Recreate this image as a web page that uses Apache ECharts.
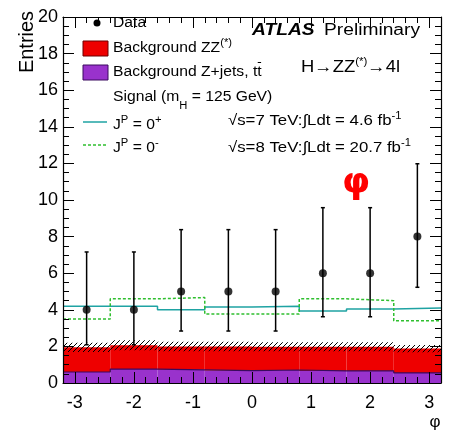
<!DOCTYPE html>
<html>
<head>
<meta charset="utf-8">
<script src="https://cdn.jsdelivr.net/npm/echarts@6/dist/echarts.min.js"></script>
<style>
  html, body { margin: 0; padding: 0; background: #fff; }
  #chart { width: 450px; height: 430px; }
</style>
</head>
<body>
<div id="chart"></div>
<script>
// bins in phi, 8 bins from -3.2 to 3.2
var binEdges = [-3.2, -2.4, -1.6, -0.8, 0, 0.8, 1.6, 2.4, 3.2];
var binCenters = [-2.8, -2.0, -1.2, -0.4, 0.4, 1.2, 2.0, 2.8];
var bkgZjets = [0.60, 0.76, 0.72, 0.68, 0.71, 0.66, 0.66, 0.55];   // Z+jets, ttbar
var bkgTotal = [1.95, 2.06, 2.00, 1.99, 1.98, 1.98, 1.98, 1.88];   // + ZZ(*)
var bkgErr = [0.25, 0.27, 0.26, 0.26, 0.25, 0.25, 0.24, 0.20];
var sigPlus = [4.20, 4.20, 4.00, 4.15, 4.20, 3.93, 4.04, 4.10];    // J^P = 0+
var sigMinus = [3.50, 4.60, 4.67, 3.77, 3.77, 4.60, 4.50, 3.40];   // J^P = 0-
var dataN = [4, 4, 5, 5, 5, 6, 6, 8];
var dataLow = [2.09, 2.09, 2.84, 2.84, 2.84, 3.62, 3.62, 5.23];
var dataHigh = [7.16, 7.16, 8.38, 8.38, 8.38, 9.58, 9.58, 11.98];
var xMajor = [-3, -2, -1, 0, 1, 2, 3];

var xMinor = [];
for (var k = -16; k <= 16; k++) xMinor.push(Math.round(k * 2) / 10);

var FONT = 'Liberation Sans';

// hatch pattern for the background uncertainty
var hatch = document.createElement('canvas');
hatch.width = 5; hatch.height = 5;
var hc = hatch.getContext('2d');
hc.strokeStyle = '#000';
hc.lineWidth = 1;
hc.beginPath();
hc.moveTo(0, 5); hc.lineTo(5, 0);
hc.moveTo(-1, 1); hc.lineTo(1, -1);
hc.moveTo(4, 6); hc.lineTo(6, 4);
hc.stroke();

// text width helper (for the bar over t-bar in the legend)
var mctx = document.createElement('canvas').getContext('2d');
function textW(s, size) {
  mctx.font = size + 'px "' + FONT + '"';
  return mctx.measureText(s).width;
}

function bins(low, high) {
  return low.map(function (l, i) {
    return [binEdges[i], binEdges[i + 1], l, high[i]];
  });
}
function stepPts(vals) {
  var pts = vals.map(function (v, i) { return [binEdges[i], v]; });
  pts.push([binEdges[vals.length], vals[vals.length - 1]]);
  return pts;
}
function renderRect(params, api) {
  var p0 = api.coord([api.value(0), api.value(3)]);
  var p1 = api.coord([api.value(1), api.value(2)]);
  return {
    type: 'rect',
    shape: { x: p0[0], y: p0[1], width: p1[0] - p0[0], height: p1[1] - p0[1] },
    style: api.style()
  };
}

var zeros = bkgZjets.map(function () { return 0; });
var errLo = bkgTotal.map(function (v, i) { return v - bkgErr[i]; });
var errHi = bkgTotal.map(function (v, i) { return v + bkgErr[i]; });

var sup = { fontSize: 10, lineHeight: 10, verticalAlign: 'top', fontFamily: FONT, fill: '#000' };
var sub = { fontSize: 10, lineHeight: 10, verticalAlign: 'bottom', fontFamily: FONT, fill: '#000' };

function label(x, y, text, size, lh, sx, extra) {
  var st = {
    text: text, x: 0, y: 0, fill: '#000', fontFamily: FONT, fontSize: size,
    lineHeight: lh, align: 'left', verticalAlign: 'middle',
    rich: { sup: sup, sub: sub }
  };
  if (extra) for (var key in extra) st[key] = extra[key];
  return { type: 'text', x: x, y: y, scaleX: sx, z: 100, style: st };
}

var tbarX0 = 113 + textW('Background Z+jets, t', 14) * 1.12;
var tbarX1 = 113 + textW('Background Z+jets, tt', 14) * 1.12;

var chart = echarts.init(document.getElementById('chart'));

var axisLine = { show: true, onZero: false, lineStyle: { color: '#000', width: 1.2 } };
var noLine = { show: false, onZero: false };
var tickStyle = { color: '#000', width: 1 };

var option = {
  animation: false,
  grid: { left: 63, right: 9, top: 17, bottom: 47 },
  xAxis: [
    {
      type: 'value', min: -3.2, max: 3.2, position: 'bottom', z: 10,
      axisLine: axisLine, splitLine: { show: false },
      axisTick: { inside: true, length: 11, lineStyle: tickStyle, customValues: xMajor },
      axisLabel: { customValues: xMajor, color: '#000', fontFamily: FONT, fontSize: 18, margin: 11 }
    },
    {
      type: 'value', min: -3.2, max: 3.2, position: 'bottom', z: 10,
      axisLine: noLine, splitLine: { show: false },
      axisTick: { inside: true, length: 6, lineStyle: tickStyle, customValues: xMinor },
      axisLabel: { show: false }
    },
    {
      type: 'value', min: -3.2, max: 3.2, position: 'top', z: 10,
      axisLine: axisLine, splitLine: { show: false },
      axisTick: { inside: true, length: 11, lineStyle: tickStyle, customValues: xMajor },
      axisLabel: { show: false }
    },
    {
      type: 'value', min: -3.2, max: 3.2, position: 'top', z: 10,
      axisLine: noLine, splitLine: { show: false },
      axisTick: { inside: true, length: 6, lineStyle: tickStyle, customValues: xMinor },
      axisLabel: { show: false }
    }
  ],
  yAxis: [
    {
      type: 'value', min: 0, max: 20, interval: 2, position: 'left', z: 10,
      axisLine: axisLine, splitLine: { show: false },
      axisTick: { inside: true, length: 11, lineStyle: tickStyle },
      minorTick: { show: true, splitNumber: 4, length: 6, lineStyle: tickStyle },
      axisLabel: { color: '#000', fontFamily: FONT, fontSize: 18, margin: 5 }
    },
    {
      type: 'value', min: 0, max: 20, interval: 2, position: 'right', z: 10,
      axisLine: axisLine, splitLine: { show: false },
      axisTick: { inside: true, length: 11, lineStyle: tickStyle },
      minorTick: { show: true, splitNumber: 4, length: 6, lineStyle: tickStyle },
      axisLabel: { show: false }
    }
  ],
  series: [
    {
      name: 'Background Z+jets', type: 'custom', renderItem: renderRect, z: 2,
      itemStyle: { color: '#9932cc' }, data: bins(zeros, bkgZjets)
    },
    {
      name: 'Background ZZ', type: 'custom', renderItem: renderRect, z: 2,
      itemStyle: { color: '#ee0000' }, data: bins(bkgZjets, bkgTotal)
    },
    {
      name: 'Uncertainty', type: 'custom', z: 3, data: bins(errLo, errHi),
      renderItem: function (params, api) {
        var p0 = api.coord([api.value(0), api.value(3)]);
        var p1 = api.coord([api.value(1), api.value(2)]);
        return {
          type: 'rect',
          shape: { x: p0[0], y: p0[1], width: p1[0] - p0[0], height: p1[1] - p0[1] },
          style: { fill: { image: hatch, repeat: 'repeat' } }
        };
      }
    },
    {
      name: 'Z+jets edge', type: 'line', step: 'end', showSymbol: false, z: 4,
      lineStyle: { color: '#3a0a5e', width: 1.2 }, data: stepPts(bkgZjets)
    },
    {
      name: 'JP = 0+', type: 'line', step: 'end', showSymbol: false, z: 5,
      lineStyle: { color: '#1fa3a3', width: 1.5 }, data: stepPts(sigPlus)
    },
    {
      name: 'JP = 0-', type: 'line', step: 'end', showSymbol: false, z: 5,
      lineStyle: { color: '#2fbf2f', width: 1.5, type: [3, 2] }, data: stepPts(sigMinus)
    },
    {
      name: 'Data errors', type: 'custom', z: 6,
      data: binCenters.map(function (c, i) { return [c, dataLow[i], dataHigh[i]]; }),
      renderItem: function (params, api) {
        var lo = api.coord([api.value(0), api.value(1)]);
        var hi = api.coord([api.value(0), api.value(2)]);
        var ls = { stroke: '#000', lineWidth: 1.5 };
        return {
          type: 'group',
          children: [
            { type: 'line', shape: { x1: lo[0], y1: lo[1], x2: hi[0], y2: hi[1] }, style: ls },
            { type: 'line', shape: { x1: lo[0] - 2, y1: lo[1], x2: lo[0] + 2, y2: lo[1] }, style: ls },
            { type: 'line', shape: { x1: hi[0] - 2, y1: hi[1], x2: hi[0] + 2, y2: hi[1] }, style: ls }
          ]
        };
      }
    },
    {
      name: 'Data', type: 'scatter', z: 7, symbol: 'circle', symbolSize: 8,
      itemStyle: { color: '#000' },
      data: binCenters.map(function (c, i) { return [c, dataN[i]]; })
    }
  ],
  graphic: [
    // axis titles
    { type: 'text', x: 27, y: 42, rotation: Math.PI / 2, z: 100,
      style: { text: 'Entries', fill: '#000', fontFamily: FONT, fontSize: 20, align: 'center', verticalAlign: 'middle' } },
    { type: 'text', x: 435, y: 422, z: 100,
      style: { text: 'φ', fill: '#000', fontFamily: FONT, fontSize: 17, align: 'center', verticalAlign: 'middle' } },
    // legend
    { type: 'circle', shape: { cx: 97, cy: 23, r: 3.5 }, style: { fill: '#000' }, z: 100 },
    label(113, 23, 'Data', 14, 20, 1.12),
    { type: 'rect', shape: { x: 83, y: 41, width: 25, height: 15 }, style: { fill: '#ee0000', stroke: '#6b0000', lineWidth: 1 }, z: 100 },
    label(113, 48, 'Background ZZ{sup|(*)}', 14, 20, 1.12),
    { type: 'rect', shape: { x: 83, y: 65, width: 25, height: 15 }, style: { fill: '#9932cc', stroke: '#3a0a5e', lineWidth: 1 }, z: 100 },
    label(113, 72, 'Background Z+jets, tt', 14, 20, 1.12),
    { type: 'line', shape: { x1: tbarX0 + 0.5, y1: 62.5, x2: tbarX1 - 0.5, y2: 62.5 }, style: { stroke: '#000', lineWidth: 1 }, z: 100 },
    label(113, 97, 'Signal (m{sub|H} = 125 GeV)', 14, 28, 1.12),
    { type: 'line', shape: { x1: 83, y1: 122, x2: 107, y2: 122 }, style: { stroke: '#1fa3a3', lineWidth: 1.5 }, z: 100 },
    label(113, 125, 'J{sup|P} = 0{sup|+}', 14, 20, 1.12),
    { type: 'line', shape: { x1: 83, y1: 145, x2: 107, y2: 145 }, style: { stroke: '#2fbf2f', lineWidth: 1.5, lineDash: [3, 2] }, z: 100 },
    label(113, 148, 'J{sup|P} = 0{sup|-}', 14, 20, 1.12),
    // annotations
    label(252, 31, 'ATLAS', 16, 20, 1.2, { fontWeight: 'bold', fontStyle: 'italic' }),
    label(324, 31, 'Preliminary', 16, 20, 1.2),
    label(301, 68, 'H\u2192ZZ{sup|(*)}\u21924l', 16, 22, 1.15),
    label(228, 121, '\u221As=7 TeV:\u222BLdt = 4.6 fb{sup|-1}', 15, 20, 1.12),
    label(228, 148, '\u221As=8 TeV:\u222BLdt = 20.7 fb{sup|-1}', 15, 20, 1.12),
    { type: 'text', x: 356, y: 184, z: 100,
      style: { text: 'φ', fill: '#ff0000', fontFamily: 'DejaVu Sans', fontWeight: 'bold', fontSize: 36, align: 'center', verticalAlign: 'middle' } }
  ]
};

chart.setOption(option);
</script>
</body>
</html>
